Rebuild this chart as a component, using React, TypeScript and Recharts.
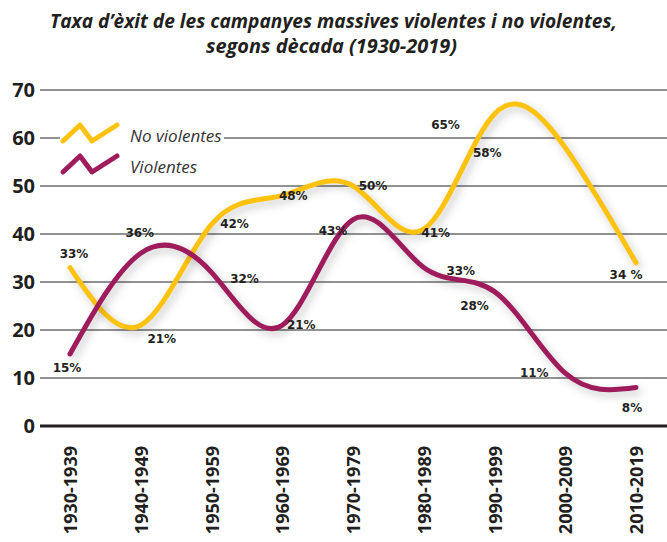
import * as React from "react";
import {
  LineChart,
  Line,
  XAxis,
  YAxis,
  CartesianGrid,
} from "recharts";

const DECADES = [
  "1930-1939",
  "1940-1949",
  "1950-1959",
  "1960-1969",
  "1970-1979",
  "1980-1989",
  "1990-1999",
  "2000-2009",
  "2010-2019",
];
const NO_VIOLENTES = [33, 21, 42, 48, 50, 41, 65, 58, 34];
const VIOLENTES = [15, 36, 32, 21, 43, 33, 28, 11, 8];
const NO_VIOLENTES_LABELS = ["33%", "21%", "42%", "48%", "50%", "41%", "65%", "58%", "34 %"];
const VIOLENTES_LABELS = ["15%", "36%", "32%", "21%", "43%", "33%", "28%", "11%", "8%"];
const Y_TICKS = [0, 10, 20, 30, 40, 50, 60, 70];
const TITLE_LINES = [
  "Taxa d’èxit de les campanyes massives violentes i no violentes,",
  "segons dècada (1930-2019)",
];

// label nudges (px) relative to each point, as placed in the original
const NV_OFFSETS: Array<[number, number]> = [
  [4, -14], [21, 14], [23, 0], [11, 0], [20, 0], [12, 4], [-49, 11], [-78, 5], [-10, 12],
];
const V_OFFSETS: Array<[number, number]> = [
  [-3, 14], [-1, -20], [33, 7], [19, 0], [-20, 11], [37, 3], [-20, 14], [-31, 0], [-4, 20],
];

const YELLOW = "#ffc20e";
const PURPLE = "#9e1b5c";
const INK = "#231f20";

const data = DECADES.map((decade, i) => ({
  decade,
  noViolentes: NO_VIOLENTES[i],
  violentes: VIOLENTES[i],
}));

function makeLabel(labels: string[], values: number[], offsets: Array<[number, number]>) {
  return (props: any) => {
    const { x, y, value } = props;
    let i = typeof props.index === "number" ? props.index : values.indexOf(value);
    if (i < 0) i = 0;
    const [dx, dy] = offsets[i];
    return (
      <text
        key={`lbl-${i}`}
        x={x + dx}
        y={y + dy}
        textAnchor="middle"
        dominantBaseline="central"
        fontFamily="DejaVu Sans"
        fontWeight={700}
        fontSize={12}
        fill={INK}
      >
        {labels[i]}
      </text>
    );
  };
}

const DecadeTick = (props: any) => {
  const { x, y, payload } = props;
  const ax = x + 7;
  return (
    <text
      x={ax}
      y={y}
      transform={`rotate(-90 ${ax} ${y})`}
      textAnchor="end"
      fontFamily="Open Sans"
      fontWeight={700}
      fontSize={18}
      fill={INK}
    >
      {payload.value}
    </text>
  );
};

const Zig = ({ color }: { color: string }) => (
  <svg width={60} height={22} style={{ display: "block", overflow: "visible" }}>
    <polyline
      points="3,19 20,3 32,19 57,3"
      fill="none"
      stroke={color}
      strokeWidth={5}
      strokeLinecap="round"
      strokeLinejoin="round"
    />
  </svg>
);

export default function App() {
  return (
    <div style={{ position: "absolute", left: 0, top: 0, width: 667, height: 542, background: "#fff", overflow: "hidden" }}>
      <style>{`.recharts-line-curve { filter: drop-shadow(3px 4px 4px rgba(0,0,0,0.22)); }`}</style>
      <svg width={667} height={60} style={{ position: "absolute", left: 0, top: 0 }}>
        <text
          x={50}
          y={28}
          textLength={567}
          lengthAdjust="spacingAndGlyphs"
          fontFamily="Open Sans"
          fontStyle="italic"
          fontWeight={700}
          fontSize={19}
          fill={INK}
        >
          {TITLE_LINES[0]}
        </text>
        <text
          x={206}
          y={53}
          textLength={251}
          lengthAdjust="spacingAndGlyphs"
          fontFamily="Open Sans"
          fontStyle="italic"
          fontWeight={700}
          fontSize={19}
          fill={INK}
        >
          {TITLE_LINES[1]}
        </text>
      </svg>
      <LineChart
        width={667}
        height={542}
        data={data}
        margin={{ top: 90, right: 0, bottom: 0, left: 0 }}
      >
        <CartesianGrid vertical={false} stroke="#6d6e71" strokeWidth={1.5} />
        <XAxis
          dataKey="decade"
          interval={0}
          padding={{ left: 30, right: 31 }}
          axisLine={{ stroke: INK, strokeWidth: 3 }}
          tickLine={false}
          tickSize={0}
          tickMargin={20}
          height={116}
          tick={<DecadeTick />}
        />
        <YAxis
          domain={[0, 70]}
          ticks={Y_TICKS}
          interval={0}
          width={40}
          axisLine={false}
          tickLine={false}
          tickSize={0}
          tickMargin={5}
          tick={{ fill: INK, fontSize: 20, fontWeight: 700, fontFamily: "Open Sans" }}
        />
        <Line
          type="natural"
          dataKey="noViolentes"
          stroke={YELLOW}
          strokeWidth={5}
          strokeLinecap="round"
          dot={false}
          activeDot={false}
          isAnimationActive={false}
          label={makeLabel(NO_VIOLENTES_LABELS, NO_VIOLENTES, NV_OFFSETS)}
        />
        <Line
          type="natural"
          dataKey="violentes"
          stroke={PURPLE}
          strokeWidth={5}
          strokeLinecap="round"
          dot={false}
          activeDot={false}
          isAnimationActive={false}
          label={makeLabel(VIOLENTES_LABELS, VIOLENTES, V_OFFSETS)}
        />
      </LineChart>
      <div
        style={{
          position: "absolute",
          left: 60,
          top: 116,
          background: "#fff",
          padding: "2px 2px 2px 0",
          fontFamily: "Open Sans",
          fontStyle: "italic",
          fontSize: 17,
          color: "#333",
        }}
      >
        <div style={{ display: "flex", alignItems: "center", height: 30 }}>
          <Zig color={YELLOW} />
          <span style={{ marginLeft: 10, marginTop: 4 }}>No violentes</span>
        </div>
        <div style={{ display: "flex", alignItems: "center", height: 32 }}>
          <Zig color={PURPLE} />
          <span style={{ marginLeft: 10, marginTop: 4 }}>Violentes</span>
        </div>
      </div>
    </div>
  );
}
